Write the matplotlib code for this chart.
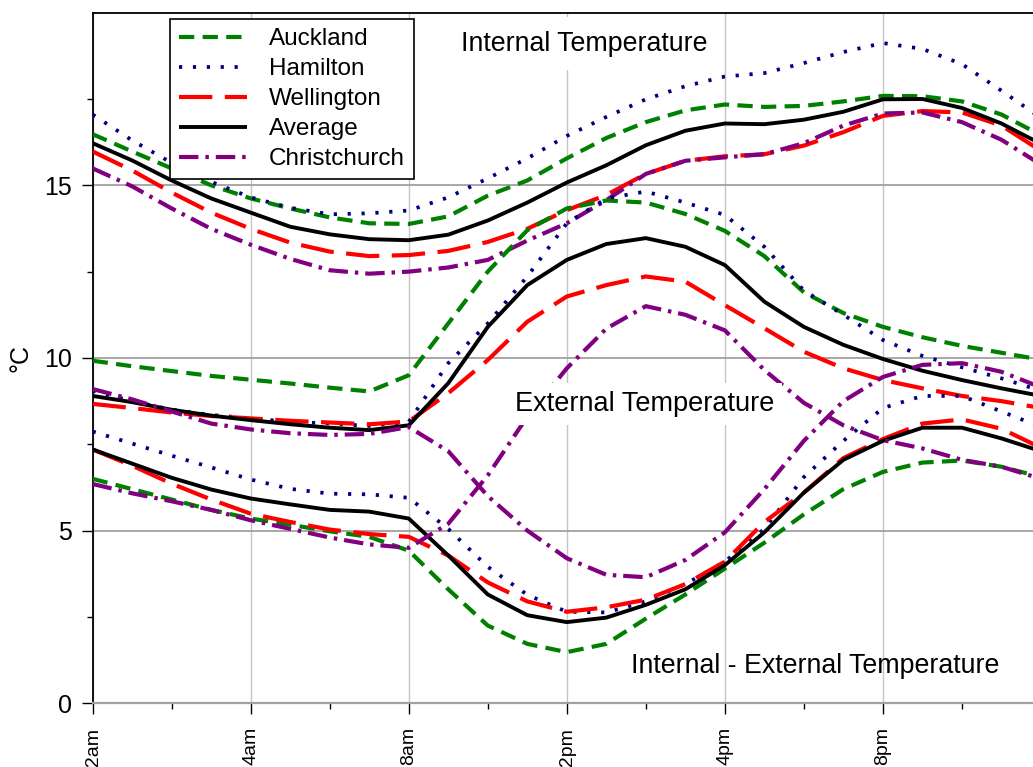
import matplotlib
matplotlib.use("Agg")
import matplotlib.pyplot as plt
from matplotlib.ticker import FixedLocator

plt.rcParams['font.family'] = ['Liberation Sans', 'DejaVu Sans']
plt.rcParams['lines.scale_dashes'] = False

# hourly readings, midnight to midnight
hours = list(range(25))
tick_hours = [0, 4, 8, 12, 16, 20]
minor_hours = [2, 6, 10, 14, 18, 22]
tick_labels = ['12am', '4am', '8am', '12pm', '4pm', '8pm']
cities = ['Auckland', 'Hamilton', 'Wellington', 'Average', 'Christchurch']

# internal temperature (degC)
auckland_int = [16.48, 15.98, 15.49, 15.0, 14.62, 14.33, 14.07, 13.9, 13.88, 14.1, 14.7, 15.14, 15.78,
                16.37, 16.83, 17.17, 17.34, 17.27, 17.3, 17.43, 17.59, 17.58, 17.43, 17.05, 16.45]
hamilton_int = [17.05, 16.3, 15.65, 15.1, 14.65, 14.35, 14.16, 14.19, 14.27, 14.65, 15.2, 15.78, 16.43,
                16.98, 17.49, 17.87, 18.15, 18.25, 18.54, 18.86, 19.12, 18.95, 18.51, 17.74, 16.95]
wellington_int = [15.98, 15.43, 14.79, 14.21, 13.74, 13.34, 13.08, 12.95, 12.98, 13.1, 13.36, 13.74, 14.28,
                  14.72, 15.33, 15.71, 15.84, 15.9, 16.15, 16.54, 17.01, 17.15, 17.11, 16.73, 16.0]
average_int = [16.22, 15.72, 15.14, 14.62, 14.21, 13.8, 13.58, 13.44, 13.41, 13.57, 13.98, 14.5, 15.08,
               15.58, 16.16, 16.58, 16.79, 16.77, 16.9, 17.13, 17.49, 17.5, 17.24, 16.79, 16.2]
christchurch_int = [15.49, 14.97, 14.33, 13.74, 13.28, 12.87, 12.54, 12.44, 12.5, 12.62, 12.84, 13.4, 13.9,
                    14.57, 15.33, 15.71, 15.81, 15.9, 16.22, 16.73, 17.08, 17.11, 16.83, 16.32, 15.6]

# external temperature (degC)
auckland_ext = [9.92, 9.76, 9.62, 9.48, 9.37, 9.26, 9.14, 9.03, 9.5, 11.0, 12.5, 13.7, 14.33,
                14.56, 14.5, 14.17, 13.68, 12.95, 11.9, 11.3, 10.9, 10.6, 10.35, 10.15, 9.95]
hamilton_ext = [9.05, 8.75, 8.5, 8.35, 8.25, 8.15, 8.1, 8.03, 8.15, 9.85, 11.0, 12.36, 13.9,
                14.62, 14.82, 14.5, 14.14, 13.22, 11.95, 11.25, 10.52, 10.06, 9.73, 9.41, 9.05]
wellington_ext = [8.67, 8.55, 8.42, 8.32, 8.25, 8.18, 8.13, 8.08, 8.16, 8.98, 9.94, 11.05, 11.78,
                  12.11, 12.36, 12.21, 11.53, 10.86, 10.18, 9.7, 9.36, 9.12, 8.9, 8.75, 8.55]
average_ext = [8.9, 8.72, 8.5, 8.33, 8.2, 8.08, 7.98, 7.91, 8.05, 9.27, 10.9, 12.11, 12.84,
               13.3, 13.47, 13.22, 12.69, 11.63, 10.9, 10.38, 9.97, 9.63, 9.36, 9.12, 8.9]
christchurch_ext = [9.1, 8.8, 8.45, 8.1, 7.93, 7.82, 7.77, 7.8, 8.0, 7.3, 6.0, 5.0, 4.2,
                    3.72, 3.65, 4.15, 4.95, 6.2, 7.6, 8.75, 9.45, 9.8, 9.85, 9.6, 9.15]

# internal - external (degC)
auckland_diff = [6.5, 6.2, 5.9, 5.6, 5.35, 5.17, 4.98, 4.82, 4.42, 3.3, 2.25, 1.72, 1.48,
                 1.72, 2.45, 3.15, 3.9, 4.65, 5.47, 6.2, 6.7, 6.97, 7.03, 6.85, 6.55]
hamilton_diff = [7.87, 7.52, 7.17, 6.83, 6.48, 6.21, 6.07, 6.05, 5.95, 5.05, 3.95, 3.14, 2.65,
                 2.63, 2.95, 3.45, 4.1, 5.05, 6.55, 7.6, 8.55, 8.9, 8.9, 8.45, 8.0]
wellington_diff = [7.35, 6.88, 6.36, 5.9, 5.49, 5.25, 5.03, 4.9, 4.82, 4.28, 3.5, 2.95, 2.65,
                   2.78, 3.0, 3.45, 4.1, 5.25, 6.1, 7.1, 7.65, 8.1, 8.22, 7.95, 7.4]
average_diff = [7.35, 6.94, 6.53, 6.19, 5.93, 5.76, 5.6, 5.55, 5.35, 4.28, 3.15, 2.55, 2.35,
                2.48, 2.85, 3.3, 4.0, 4.95, 6.1, 7.05, 7.6, 7.98, 7.98, 7.67, 7.3]
christchurch_diff = [6.35, 6.08, 5.85, 5.6, 5.3, 5.05, 4.8, 4.6, 4.5, 5.2, 6.6, 8.3, 9.7,
                     10.85, 11.5, 11.25, 10.8, 9.65, 8.7, 8.05, 7.62, 7.38, 7.05, 6.85, 6.5]

groups = [
    [auckland_int, hamilton_int, wellington_int, average_int, christchurch_int],
    [auckland_ext, hamilton_ext, wellington_ext, average_ext, christchurch_ext],
    [auckland_diff, hamilton_diff, wellington_diff, average_diff, christchurch_diff],
]

# line look per city (dash lengths in points)
styles = {
    'Auckland': dict(color='#008000', lw=3.0, dashes=(11, 6)),
    'Hamilton': dict(color='#000080', lw=2.7, dashes=(2.3, 7.7)),
    'Wellington': dict(color='#ff0000', lw=3.0, dashes=(24, 9)),
    'Average': dict(color='black', lw=2.8, linestyle='-'),
    'Christchurch': dict(color='#800080', lw=3.0, dashes=(14, 5, 2.5, 5)),
}

fig = plt.figure(figsize=(10.33, 7.67), dpi=100)
ax = fig.add_axes([0.0897, 0.0831, 0.918, 0.9004])

handles = []
for g, series in enumerate(groups):
    for city, values in zip(cities, series):
        line, = ax.plot(hours, values, label=city, dash_capstyle='butt',
                        solid_capstyle='butt', solid_joinstyle='round', zorder=3,
                        **styles[city])
        if g == 0:
            handles.append(line)

ax.set_xlim(0, 24)
ax.set_ylim(0, 20)
ax.set_xticks(tick_hours)
ax.set_xticklabels(tick_labels)
ax.xaxis.set_minor_locator(FixedLocator(minor_hours))
ax.set_yticks([0, 5, 10, 15])
ax.yaxis.set_minor_locator(FixedLocator([2.5, 7.5, 12.5, 17.5]))

ax.tick_params(axis='y', which='major', length=8, width=1, labelsize=18, pad=7)
ax.tick_params(axis='y', which='minor', length=4, width=1)
ax.tick_params(axis='x', which='major', length=8, width=1, labelsize=14, pad=9,
               labelrotation=90)
ax.tick_params(axis='x', which='minor', length=4, width=1)

ax.set_axisbelow(True)
ax.grid(axis='y', which='major', color='#a0a0a0', lw=1.3)
ax.grid(axis='x', which='major', color='#c4c4c4', lw=1.0)

ax.spines['left'].set_linewidth(1.3)
ax.spines['top'].set_linewidth(1.3)
ax.spines['bottom'].set_color('#a0a0a0')
ax.spines['bottom'].set_linewidth(1.6)
ax.spines['right'].set_visible(False)

ax.set_ylabel('°C', fontsize=18, labelpad=8)

ax.text(12.44, 18.9, 'Internal Temperature', ha='center', va='baseline', fontsize=19.3,
        bbox=dict(boxstyle='square,pad=0.5', fc='white', ec='none'), zorder=5)
ax.text(13.97, 8.47, 'External Temperature', ha='center', va='baseline', fontsize=19.5,
        bbox=dict(boxstyle='square,pad=0.3', fc='white', ec='none'), zorder=5)
ax.text(18.28, 0.87, 'Internal - External Temperature', ha='center', va='baseline',
        fontsize=19.3, zorder=5)

leg = ax.legend(handles=handles, loc='upper left', bbox_to_anchor=(0.0815, 0.991),
                borderaxespad=0, fontsize=17.5, handlelength=2.8, handletextpad=0.9,
                labelspacing=0.33, borderpad=0.38, fancybox=False, framealpha=1,
                edgecolor='black')
leg.get_frame().set_linewidth(1.2)
leg.set_zorder(10)

fig.savefig('out.png', dpi=100)
